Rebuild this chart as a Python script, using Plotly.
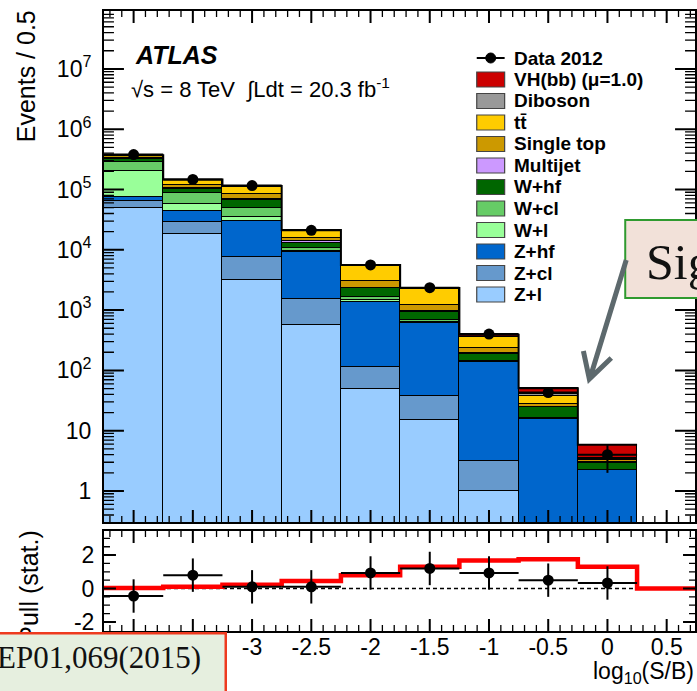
import math
import plotly.graph_objects as go

# ---------------- data ----------------
bin_edges = [-4.25, -3.75, -3.25, -2.75, -2.25, -1.75, -1.25, -0.75, -0.25, 0.25]
bin_centers = [-4.0, -3.5, -3.0, -2.5, -2.0, -1.5, -1.0, -0.5, 0.0]

z_l      = [50000, 18000, 3200, 560, 50, 15, 1.0, 0.05, 0.02]
z_cl     = [14000, 11000, 4500, 940, 62, 23, 2.1, 0.10, 0.05]
z_hf     = [12000, 15000, 22300, 7600, 1250, 582, 135, 15.6, 2.15]
w_l      = [128000, 13000, 4700, 400, 100, 10, 2, 0.15, 0.02]
w_cl     = [86000, 32000, 14300, 1100, 200, 60, 4, 0.15, 0.02]
w_hf     = [25000, 11000, 18000, 2600, 620, 250, 45, 8.4, 0.7]
multijet = [12000, 5000, 2500, 800, 20, 15, 5, 0.5, 0.02]
single_t = [10000, 13000, 14500, 1500, 750, 265, 40, 2.7, 0.25]
ttbar    = [30000, 26000, 28000, 5400, 2450, 1000, 120, 10.3, 0.2]
diboson  = [3000, 2000, 2000, 300, 60, 30, 5, 2.5, 0.1]
vh_sig   = [10, 40, 70, 65, 58, 65, 30, 10, 2.3]

data_2012 = [380000, 147000, 116000, 21000, 5600, 2350, 400, 43, 4]
data_err  = [620, 380, 340, 145, 75, 48, 20, 6.6, 2.0]

pull_vals = [-0.45, 0.8, 0.1, 0.1, 0.93, 1.2, 0.93, 0.5, 0.33]
pull_err  = [1, 1, 1, 1, 1, 1, 1, 1, 1]
half_bin  = [0.25] * 9

sig_edges = [-4.25, -3.75, -3.25, -2.75, -2.25, -1.75, -1.25, -0.75, -0.25, 0.25, 0.75]
sig_pull  = [0.03, 0.1, 0.22, 0.45, 0.8, 1.3, 1.67, 1.75, 1.3, 0.0]

x_ticks = [-4, -3.5, -3, -2.5, -2, -1.5, -1, -0.5, 0, 0.5]
x_ticktext = ["-4", "-3.5", "-3", "-2.5", "-2", "-1.5", "-1", "-0.5", "0", "0.5"]
y_ticks = [1, 10, 1e2, 1e3, 1e4, 1e5, 1e6, 1e7]
y_ticktext = ["1", "10", "10<sup>2</sup>", "10<sup>3</sup>", "10<sup>4</sup>",
              "10<sup>5</sup>", "10<sup>6</sup>", "10<sup>7</sup>"]
pull_ticks = [-2, 0, 2]
pull_ticktext = ["-2", "0", "2"]

# stacking order: bottom first
stack = [
    ("Z+l", z_l, "#99ccff"),
    ("Z+cl", z_cl, "#6699cc"),
    ("Z+hf", z_hf, "#0066cc"),
    ("W+l", w_l, "#99ff99"),
    ("W+cl", w_cl, "#66cc66"),
    ("W+hf", w_hf, "#006600"),
    ("Multijet", multijet, "#cc99ff"),
    ("Single top", single_t, "#cc9900"),
    ("tt\u0304", ttbar, "#ffcc00"),
    ("Diboson", diboson, "#999999"),
    ("VH(bb) (\u03bc=1.0)", vh_sig, "#cc0000"),
]

# ---------------- geometry ----------------
W, H = 697, 691
L, R, T, B = 104, 697, 11, 631      # outer plot area (pixels)
TOP_BOTTOM = 522                     # lower edge of the main panel
BOT_TOP = 531                        # upper edge of the pull panel


def px(x):
    return (x - L) / (R - L)


def py(y):
    return (B - y) / (B - T)


x_range = [-4.25, -4.25 + (R - L) / 118.86]
y_range = [-0.514, 7.960]
pull_range = [-2.545, 3.443]
top_domain = [py(TOP_BOTTOM), 1]
bot_domain = [0, py(BOT_TOP)]


def x_pix(v):
    return L + (v - x_range[0]) / (x_range[1] - x_range[0]) * (R - L)


def ylog_pix(v):
    return TOP_BOTTOM - (math.log10(v) - y_range[0]) / (y_range[1] - y_range[0]) * (TOP_BOTTOM - T)


def ypull_pix(v):
    return B - (v - pull_range[0]) / (pull_range[1] - pull_range[0]) * (B - BOT_TOP)


SANS = "Liberation Sans, Arial, Helvetica, sans-serif"
SERIF = "Liberation Serif, Times New Roman, serif"

fig = go.Figure()

for name, vals, col in stack:
    fig.add_trace(go.Bar(
        x=bin_centers, y=vals, width=0.5, name=name,
        marker=dict(color=col, line=dict(color="black", width=1)),
        xaxis="x", yaxis="y", showlegend=False))

totals = [sum(v[i] for _, v, _ in stack) for i in range(len(bin_centers))]
fig.add_trace(go.Scatter(
    x=bin_edges, y=totals + [totals[-1]], mode="lines", line_shape="hv",
    line=dict(color="black", width=2), xaxis="x", yaxis="y", showlegend=False))

fig.add_trace(go.Scatter(
    x=bin_centers, y=data_2012, mode="markers",
    marker=dict(color="black", size=11),
    error_y=dict(type="data", array=data_err, color="black", thickness=2, width=0),
    error_x=dict(type="data", array=half_bin, color="black", thickness=2, width=0),
    xaxis="x", yaxis="y", showlegend=False))

# pull panel
fig.add_trace(go.Scatter(
    x=[sig_edges[0], sig_edges[-1]], y=[0, 0], mode="lines",
    line=dict(color="black", width=1.5, dash="4px,3px"),
    xaxis="x2", yaxis="y2", showlegend=False))
fig.add_trace(go.Scatter(
    x=sig_edges, y=sig_pull + [sig_pull[-1]], mode="lines", line_shape="hv",
    line=dict(color="#ff0000", width=4.5),
    xaxis="x2", yaxis="y2", showlegend=False))
fig.add_trace(go.Scatter(
    x=bin_centers, y=pull_vals, mode="markers",
    marker=dict(color="black", size=11),
    error_y=dict(type="data", array=pull_err, color="black", thickness=2, width=0),
    error_x=dict(type="data", array=half_bin, color="black", thickness=2, width=0),
    xaxis="x2", yaxis="y2", showlegend=False))

# tick positions are drawn as inward comb marks on every side of both frames
axis_common = dict(showline=True, linewidth=2, linecolor="black", mirror=True,
                   showgrid=False, zeroline=False, ticks="inside",
                   tickcolor="rgba(0,0,0,0)", tickmode="array")

fig.update_layout(
    width=W, height=H,
    margin=dict(l=L, r=W - R, t=T, b=H - B),
    plot_bgcolor="white",
    barmode="stack", bargap=0, showlegend=False,
    font=dict(family=SANS, size=23, color="black"),
    xaxis=dict(domain=[0, 1], anchor="y", range=x_range,
               tickvals=x_ticks, showticklabels=False,
               ticklen=12, tickwidth=2, **axis_common),
    yaxis=dict(domain=top_domain, anchor="x", type="log", range=y_range,
               tickvals=y_ticks, ticktext=y_ticktext,
               ticklen=20, tickwidth=2, ticklabelstandoff=6,
               tickfont=dict(size=23, family=SANS, color="black"),
               **axis_common),
    xaxis2=dict(domain=[0, 1], anchor="y2", range=x_range,
                tickvals=x_ticks, ticktext=x_ticktext, ticklen=12, tickwidth=2,
                ticklabelstandoff=-6,
                tickfont=dict(size=23, family=SANS, color="black"),
                **axis_common),
    yaxis2=dict(domain=bot_domain, anchor="x2", range=pull_range,
                tickvals=pull_ticks, ticktext=pull_ticktext,
                ticklen=12, tickwidth=2, ticklabelstandoff=3,
                tickfont=dict(size=23, family=SANS, color="black"),
                **axis_common),
)

shapes = []
annotations = []

# ---- tick marks ----
x_minor_vals = [round(k * 0.1, 1) for k in range(-42, 8) if k % 5 != 0]
log_minor_vals = [k * 10 ** d for d in range(-1, 8) for k in range(2, 10)]
pull_minor_vals = [-2.5, -1.5, -1, -0.5, 0.5, 1, 1.5, 2.5, 3]


def comb(segs):
    return " ".join("M %.5f %.5f L %.5f %.5f" % (px(a), py(b), px(c), py(d))
                    for a, b, c, d in segs)


def x_comb(vals, lo, hi, length):
    segs = []
    for v in vals:
        X = x_pix(v)
        if L + 1 < X < R:
            segs.append((X, lo, X, lo - length))
            segs.append((X, hi, X, hi + length))
    return segs


def y_comb(vals, to_pix, lo, hi, length):
    segs = []
    for v in vals:
        Y = to_pix(v)
        if hi + 1 < Y < lo - 1:
            segs.append((L, Y, L + length, Y))
            segs.append((R, Y, R - length, Y))
    return segs


tick_groups = [
    (x_comb(x_ticks, TOP_BOTTOM, T, 12), 2.0),
    (x_comb(x_minor_vals, TOP_BOTTOM, T, 6), 1.3),
    (x_comb(x_ticks, B, BOT_TOP, 12), 2.0),
    (x_comb(x_minor_vals, B, BOT_TOP, 6), 1.3),
    (y_comb(y_ticks, ylog_pix, TOP_BOTTOM, T, 20), 2.0),
    (y_comb(log_minor_vals, ylog_pix, TOP_BOTTOM, T, 10), 1.3),
    (y_comb(pull_ticks, ypull_pix, B, BOT_TOP, 12), 2.0),
    (y_comb(pull_minor_vals, ypull_pix, B, BOT_TOP, 6), 1.3),
]
for segs, lw in tick_groups:
    shapes.append(dict(type="path", xref="paper", yref="paper", path=comb(segs),
                       line=dict(color="black", width=lw), layer="above"))

# ---- legend ----
row_y = [58 + 21.5 * i for i in range(12)]
annotations.append(dict(xref="paper", yref="paper", x=px(513), y=py(row_y[0]),
                        xanchor="left", yanchor="middle", showarrow=False,
                        text="<b>Data 2012</b>",
                        font=dict(family=SANS, size=19, color="black")))
shapes.append(dict(type="line", xref="paper", yref="paper",
                   x0=px(478), x1=px(506), y0=py(row_y[0]), y1=py(row_y[0]),
                   line=dict(color="black", width=2), layer="above"))
shapes.append(dict(type="circle", xref="paper", yref="paper",
                   x0=px(487), x1=px(497), y0=py(row_y[0] + 5), y1=py(row_y[0] - 5),
                   fillcolor="black", line=dict(color="black", width=1), layer="above"))
for i, (name, _, col) in enumerate(reversed(stack)):
    yc = row_y[i + 1]
    shapes.append(dict(type="rect", xref="paper", yref="paper",
                       x0=px(478), x1=px(506), y0=py(yc + 7.5), y1=py(yc - 7.5),
                       fillcolor=col, line=dict(color="#444444", width=1.2),
                       layer="above"))
    annotations.append(dict(xref="paper", yref="paper", x=px(513), y=py(yc),
                            xanchor="left", yanchor="middle", showarrow=False,
                            text="<b>%s</b>" % name,
                            font=dict(family=SANS, size=19, color="black")))

# ---- experiment labels ----
annotations.append(dict(xref="paper", yref="paper", x=px(133), y=py(55),
                        xanchor="left", yanchor="middle", showarrow=False,
                        text="<b><i>ATLAS</i></b>",
                        font=dict(family=SANS, size=25, color="black")))
annotations.append(dict(xref="paper", yref="paper", x=px(129), y=py(88),
                        xanchor="left", yanchor="middle", showarrow=False,
                        text="\u221as = 8 TeV  \u222bLdt = 20.3 fb<sup>-1</sup>",
                        font=dict(family=SANS, size=22, color="black")))

# ---- axis titles ----
annotations.append(dict(xref="paper", yref="paper", x=px(26), y=py(76),
                        xanchor="center", yanchor="middle", showarrow=False,
                        textangle=-90, text="Events / 0.5",
                        font=dict(family=SANS, size=25, color="black")))
annotations.append(dict(xref="paper", yref="paper", x=px(28.5), y=py(586),
                        xanchor="center", yanchor="middle", showarrow=False,
                        textangle=-90, text="Pull (stat.)",
                        font=dict(family=SANS, size=25, color="black")))
annotations.append(dict(xref="paper", yref="paper", x=px(698), y=py(672),
                        xanchor="right", yanchor="middle", showarrow=False,
                        text="log<sub>10</sub>(S/B)",
                        font=dict(family=SANS, size=23, color="black")))

# ---- reference box (bottom left) ----
annotations.append(dict(xref="paper", yref="paper", x=px(111), y=py(664.5),
                        xanchor="center", yanchor="middle", showarrow=False,
                        text="\u00a0", width=227, height=60, borderpad=0,
                        bgcolor="#e6efdf", bordercolor="#ee3a1f", borderwidth=2.5))
annotations.append(dict(xref="paper", yref="paper", x=px(203), y=py(657),
                        xanchor="right", yanchor="middle", showarrow=False,
                        text="EP01,069(2015)",
                        font=dict(family=SERIF, size=31, color="#111111")))

# ---- callout box with arrow ----
shapes.append(dict(type="rect", xref="paper", yref="paper",
                   x0=px(627), x1=px(780), y0=py(298), y1=py(220),
                   fillcolor="#f2e1d9", line=dict(color="#2f9a2f", width=2),
                   layer="above"))
annotations.append(dict(xref="paper", yref="paper", x=px(646), y=py(262),
                        xanchor="left", yanchor="middle", showarrow=False,
                        text="Sig",
                        font=dict(family=SERIF, size=50, color="#111111")))
arrow_path = "M %f %f L %f %f M %f %f L %f %f L %f %f" % (
    px(628), py(260), px(592), py(377),
    px(585), py(351), px(591), py(379), px(613), py(358))
shapes.append(dict(type="path", xref="paper", yref="paper", path=arrow_path,
                   line=dict(color="#5d696d", width=5), layer="above"))

fig.update_layout(shapes=shapes, annotations=annotations)
fig.write_html("out.html")
